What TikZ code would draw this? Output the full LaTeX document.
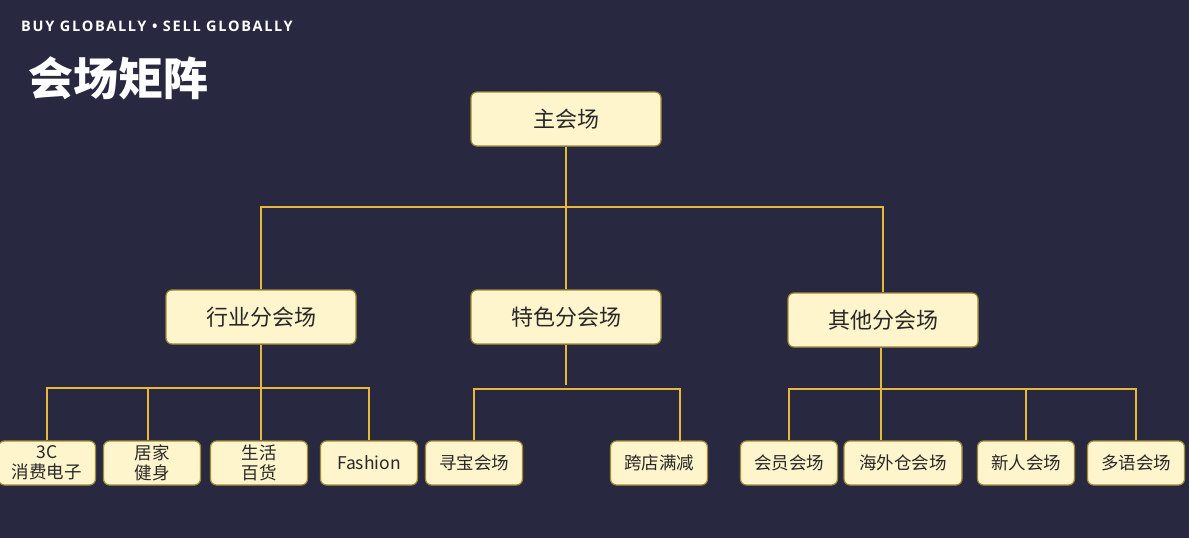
\documentclass[tikz,border=0pt]{standalone}
\usepackage{fontspec}
\newfontfamily\cjk{Noto Sans CJK SC}
\newfontfamily\heads{Open Sans}
\definecolor{bg}{RGB}{40,41,64}
\definecolor{boxfill}{RGB}{255,245,204}
\definecolor{boxline}{RGB}{160,140,50}
\definecolor{linkcol}{RGB}{232,184,56}
\definecolor{boxtext}{RGB}{40,40,40}
\tikzset{
  box/.style={draw=boxline, fill=boxfill, rounded corners=6pt, line width=1.2pt,
    text=boxtext, align=center, inner sep=0pt},
  hub/.style={box, minimum width=190pt, minimum height=54pt, font=\cjk\fontsize{22}{26}\selectfont},
  leaf/.style={box, minimum width=97pt, minimum height=44pt, font=\cjk\fontsize{17.5}{20}\selectfont},
  link/.style={-, draw=linkcol, line width=1.3pt}
}
\begin{document}
\begin{tikzpicture}[x=1pt,y=-1pt]
\fill[bg] (0,0) rectangle (1189,538);
\useasboundingbox (0,0) rectangle (1189,538);
\node[anchor=base west, inner sep=0pt, text=white, font=\heads\bfseries\fontsize{14.5}{16}\selectfont\addfontfeature{LetterSpace=12}](tag) at (21,31) {BUY GLOBALLY • SELL GLOBALLY};
\node[anchor=west, inner sep=0pt, text=white, font=\cjk\bfseries\fontsize{45}{50}\selectfont](title) at (28,78) {会场矩阵};
% top levels
\node[hub](main) at (566,119) {主会场};
\node[hub](ind) at (261,317) {行业分会场};
\node[hub](spe) at (566,317) {特色分会场};
\node[hub](oth) at (883,320) {其他分会场};
% leaves
\node[leaf](i1) at (47,463) {3C\\消费电子};
\node[leaf](i2) at (152,463) {居家\\健身};
\node[leaf](i3) at (259,463) {生活\\百货};
\node[leaf](i4) at (369,463) {Fashion};
\node[leaf](s1) at (474,463) {寻宝会场};
\node[leaf](s2) at (659,463) {跨店满减};
\node[leaf](o1) at (789,463) {会员会场};
\node[leaf, minimum width=118pt](o2) at (903,463) {海外仓会场};
\node[leaf](o3) at (1026,463) {新人会场};
\node[leaf](o4) at (1136,463) {多语会场};
\coordinate (bar1) at (566,207);
\coordinate (bar2) at (260,388);
\coordinate (bar3) at (566,389);
\coordinate (bar4) at (881,389);
\coordinate (spetail) at (566,385);
\coordinate (s2tap) at (680,441);
\draw [link] (main) -- (spe);
\draw [link] (ind.north) |- (bar1) -| (oth.north);
\draw [link] (ind.south) -- (ind.south |- i3.north);
\draw [link] (i1.north) |- (bar2) -| (i4.north);
\draw [link] ([xshift=-4pt]i2.north) -- ([xshift=-4pt]i2.north |- bar2);
\draw [link] (spe.south) -- (spetail);
\draw [link] (s1.north) |- (bar3) -| (s2tap);
\draw [link] (oth.south -| bar4) -- (bar4 |- o2.north);
\draw [link] (o1.north) |- (bar4) -| (o4.north);
\draw [link] (o3.north) -- (o3.north |- bar4);
\end{tikzpicture}
\end{document}
